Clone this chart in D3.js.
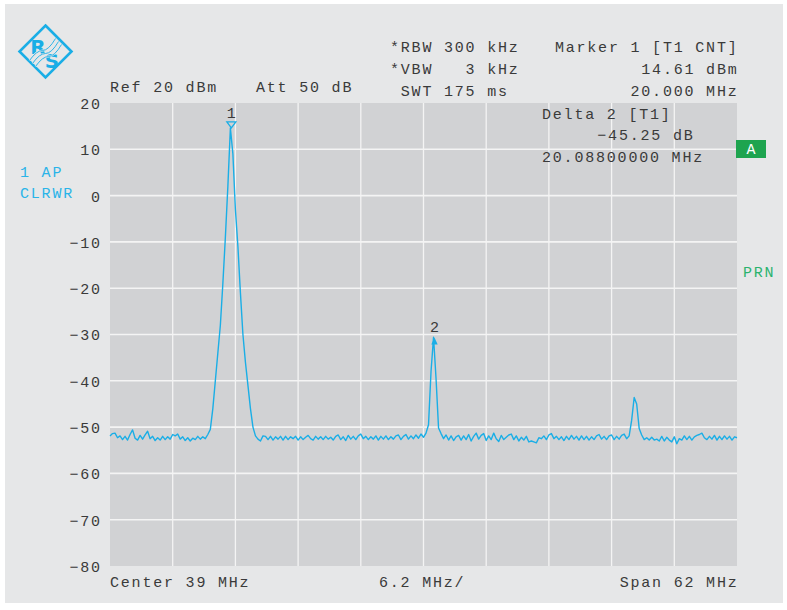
<!DOCTYPE html>
<html>
<head>
<meta charset="utf-8">
<script src="https://cdn.jsdelivr.net/npm/d3@7"></script>
<style>
  body { margin: 0; background: #fff; }
  svg text { white-space: pre; }
</style>
</head>
<body>
<svg id="chart"></svg>
<script>
// analyzer settings
const centerMHz = 39;
const spanMHz = 62;
const refDbm = 20;
const levelTicks = [20, 10, 0, -10, -20, -30, -40, -50, -60, -70, -80];

// trace, 251 sweep points from 8 MHz to 70 MHz (dBm)
const traceDbm = [
  -51.9,-51.4,-51.3,-52.3,-51.9,-52.7,-52.0,-52.8,-51.6,-50.6,
  -52.4,-52.8,-51.8,-52.6,-51.7,-50.9,-52.5,-52.0,-52.9,-52.3,
  -52.8,-52.0,-52.7,-52.1,-52.6,-51.6,-51.9,-51.5,-52.6,-52.1,
  -52.9,-52.3,-53.0,-52.4,-52.7,-52.0,-52.6,-52.1,-52.5,-51.6,
  -50.5,-46.0,-40.0,-34.0,-28.0,-19.0,-9.0,2.0,14.6,9.0,
  -3.0,-11.0,-21.0,-30.0,-36.0,-41.0,-46.0,-50.0,-51.9,-52.6,
  -53.0,-51.9,-52.0,-52.7,-52.0,-52.8,-52.1,-52.6,-52.0,-52.8,
  -52.0,-52.7,-52.1,-52.5,-52.0,-52.8,-52.1,-52.7,-52.2,-51.8,
  -52.5,-52.8,-52.0,-52.6,-52.1,-52.7,-52.0,-52.6,-52.2,-52.8,
  -52.0,-51.7,-52.7,-52.1,-52.9,-51.8,-52.6,-52.0,-52.7,-51.9,
  -51.5,-52.5,-52.0,-52.7,-52.1,-52.6,-51.9,-52.8,-52.0,-52.6,
  -51.9,-52.7,-52.1,-52.6,-51.9,-51.7,-52.7,-52.0,-51.6,-52.6,
  -51.9,-52.5,-51.7,-52.4,-51.5,-52.2,-51.3,-49.5,-38.0,-30.6,
  -39.5,-50.2,-51.4,-52.5,-51.7,-52.8,-51.9,-52.9,-52.1,-51.8,
  -52.8,-51.9,-52.7,-51.6,-53.0,-52.0,-51.3,-52.6,-51.8,-51.4,
  -52.9,-51.9,-52.7,-51.3,-52.5,-53.1,-51.8,-52.7,-52.2,-51.7,
  -51.5,-52.7,-51.9,-53.0,-52.2,-52.8,-52.0,-53.2,-53.0,-53.2,
  -53.4,-52.3,-52.5,-51.9,-52.7,-51.7,-51.4,-52.5,-52.0,-52.7,
  -52.1,-52.9,-52.0,-52.7,-51.8,-52.6,-52.0,-52.8,-51.9,-52.7,
  -52.0,-52.8,-52.1,-52.7,-51.9,-51.6,-52.6,-52.0,-52.7,-51.9,
  -51.7,-52.7,-52.0,-52.6,-51.8,-51.5,-52.5,-51.9,-48.5,-43.6,
  -45.0,-50.3,-51.7,-52.7,-52.3,-52.8,-52.2,-52.8,-52.6,-53.0,
  -52.0,-53.0,-52.2,-52.8,-53.2,-52.1,-53.6,-52.5,-52.8,-51.9,
  -52.7,-52.0,-52.8,-52.1,-51.8,-51.6,-51.3,-52.3,-52.7,-52.0,
  -52.6,-51.8,-52.8,-52.0,-52.7,-51.9,-52.6,-52.0,-52.8,-52.1,
  -52.3
];

// markers
const markerIds = [1, 2];
const markerMHz = [20.000, 40.088];
const markerDbm = [14.61, -30.64];

// screen texts
const settingLines = ["*RBW 300 kHz", "*VBW   3 kHz", " SWT 175 ms"];
const markerLines = ["Marker 1 [T1 CNT]", "14.61 dBm", "20.000 MHz"];
const deltaLines = ["Delta 2 [T1]", "\u221245.25 dB", "20.08800000 MHz"];
const refText = "Ref 20 dBm";
const attText = "Att 50 dB";
const traceInfo = ["1 AP", "CLRWR"];
const bottomTexts = ["Center 39 MHz", "6.2 MHz/", "Span 62 MHz"];

const W = 787, H = 610;
const plot = {left: 110, right: 737, top: 103, bottom: 566};
const ink = "#3a3a3a", cyan = "#1aaee6", green = "#1ea44f";
const mono = "'Courier New','Liberation Mono',monospace";

const svg = d3.select("#chart").attr("width", W).attr("height", H);

svg.append("rect").attr("x", 5).attr("y", 4).attr("width", 778).attr("height", 599)
  .attr("fill", "#e6e7e8");

const x = d3.scaleLinear()
  .domain([centerMHz - spanMHz / 2, centerMHz + spanMHz / 2])
  .range([plot.left, plot.right]);
const y = d3.scaleLinear().domain([-80, refDbm]).range([plot.bottom, plot.top]);

svg.append("rect")
  .attr("x", plot.left).attr("y", plot.top)
  .attr("width", plot.right - plot.left).attr("height", plot.bottom - plot.top)
  .attr("fill", "#d1d2d4");

// grid, 10 x 10 divisions
const g = svg.append("g");
const vlines = d3.range(11).map(k => x.domain()[0] + k * spanMHz / 10);
g.selectAll("line.v").data(vlines.slice(1, -1)).join("line")
  .attr("x1", d => x(d)).attr("x2", d => x(d))
  .attr("y1", plot.top).attr("y2", plot.bottom)
  .attr("stroke", "#f4f4f4").attr("stroke-width", 1.3);
g.selectAll("line.h").data(levelTicks.slice(1, -1)).join("line")
  .attr("y1", d => y(d)).attr("y2", d => y(d))
  .attr("x1", plot.left).attr("x2", plot.right)
  .attr("stroke", "#f4f4f4").attr("stroke-width", 1.6);

// y axis labels
const yAxis = d3.axisLeft(y).tickValues(levelTicks).tickSize(0).tickPadding(0)
  .tickFormat(d => d < 0 ? "\u2212" + Math.abs(d) : String(d));
const ya = svg.append("g").attr("transform", `translate(${101.8},0)`).call(yAxis);
ya.select(".domain").remove();
ya.selectAll("text")
  .attr("font-family", mono).attr("font-size", 15).attr("letter-spacing", 1.8)
  .attr("fill", ink).attr("dy", "0.36em");

function txt(s, px, py, opts = {}) {
  return svg.append("text")
    .attr("x", px).attr("y", py)
    .attr("font-family", mono).attr("font-size", opts.size || 15)
    .attr("letter-spacing", opts.ls === undefined ? 1.8 : opts.ls)
    .attr("text-anchor", opts.anchor || "start")
    .attr("fill", opts.fill || ink)
    .text(s);
}

settingLines.forEach((s, i) => txt(s, 390, 52 + i * 22));
markerLines.forEach((s, i) => txt(s, 738.5, 52 + i * 22, {anchor: "end"}));
txt(refText, 110, 92);
txt(attText, 256, 92);
txt(deltaLines[0], 542, 119);
txt(deltaLines[1], 694.5, 140, {anchor: "end"});
txt(deltaLines[2], 542, 162);
traceInfo.forEach((s, i) => txt(s, 20, 177 + i * 21, {fill: "#2ab4e8"}));
txt(bottomTexts[0], 110, 587);
txt(bottomTexts[1], 379, 587);
txt(bottomTexts[2], 738.5, 587, {anchor: "end"});

// trace
const fStep = spanMHz / (traceDbm.length - 1);
const line = d3.line()
  .x((d, i) => x(x.domain()[0] + i * fStep))
  .y(d => y(d));
svg.append("path").datum(traceDbm)
  .attr("d", line)
  .attr("fill", "none").attr("stroke", cyan).attr("stroke-width", 1.4)
  .attr("stroke-linejoin", "round");

// markers
markerIds.forEach((id, k) => {
  const mx = x(markerMHz[k]), my = y(markerDbm[k]);
  if (id === 1) {
    svg.append("path")
      .attr("d", `M${mx - 4.5},${my - 6}L${mx + 4.5},${my - 6}L${mx},${my}Z`)
      .attr("fill", "#d1d2d4").attr("stroke", cyan).attr("stroke-width", 1.3);
    txt(String(id), mx + 0.9, my - 10, {anchor: "middle"});
  } else {
    svg.append("path")
      .attr("d", `M${mx},${my}L${mx - 3.2},${my + 7}L${mx + 3.2},${my + 7}Z`)
      .attr("fill", cyan);
    txt(String(id), mx + 0.9, my - 5, {anchor: "middle"});
  }
});

// side labels
svg.append("rect").attr("x", 736).attr("y", 140).attr("width", 30).attr("height", 18)
  .attr("fill", green);
txt("A", 751.9, 154, {anchor: "middle", fill: "#fff"});
txt("PRN", 743, 277, {fill: "#2bb36e"});

// logo
const lg = svg.append("g").attr("transform", "translate(45.5,51.5)");
lg.append("path").attr("d", "M0,-26L26,0L0,26L-26,0Z")
  .attr("fill", "none").attr("stroke", cyan).attr("stroke-width", 2.6);
lg.append("text").attr("x", -7.5).attr("y", 2).attr("text-anchor", "middle")
  .attr("font-family", "'DejaVu Sans',sans-serif").attr("font-size", 20)
  .attr("font-weight", "bold").attr("fill", cyan).text("R");
lg.append("text").attr("x", 6.5).attr("y", 16).attr("text-anchor", "middle")
  .attr("font-family", "'DejaVu Sans',sans-serif").attr("font-size", 20)
  .attr("font-weight", "bold").attr("fill", cyan).text("S");
[-3, 0, 3].forEach(o => {
  const d = `M${-13 + o},${12 + o} Q${-6 + o},${2 + o} ${0 + o},${2 + o} T${13 + o},${-10 + o}`;
  lg.append("path").attr("d", d)
    .attr("fill", "none").attr("stroke", "#e6e7e8").attr("stroke-width", 2);
  lg.append("path").attr("d", d)
    .attr("fill", "none").attr("stroke", cyan).attr("stroke-width", 0.9);
});
</script>
</body>
</html>
